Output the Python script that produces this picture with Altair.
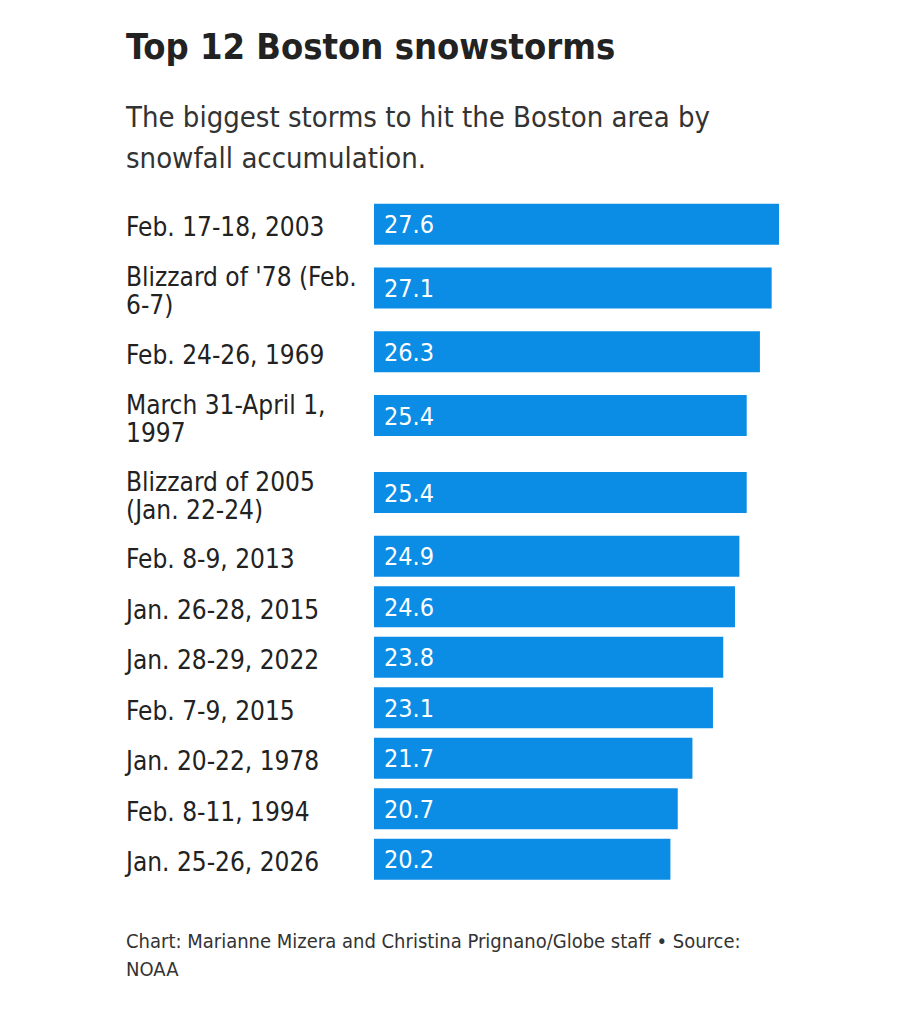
import altair as alt
import pandas as pd

storms = [
    "Feb. 17-18, 2003",
    "Blizzard of '78 (Feb.|6-7)",
    "Feb. 24-26, 1969",
    "March 31-April 1,|1997",
    "Blizzard of 2005|(Jan. 22-24)",
    "Feb. 8-9, 2013",
    "Jan. 26-28, 2015",
    "Jan. 28-29, 2022",
    "Feb. 7-9, 2015",
    "Jan. 20-22, 1978",
    "Feb. 8-11, 1994",
    "Jan. 25-26, 2026",
]
snowfall = [27.6, 27.1, 26.3, 25.4, 25.4, 24.9, 24.6, 23.8, 23.1, 21.7, 20.7, 20.2]

title_text = "Top 12 Boston snowstorms"
subtitle_lines = ["The biggest storms to hit the Boston area by", "snowfall accumulation."]
footer_lines = ["Chart: Marianne Mizera and Christina Prignano/Globe staff \u2022 Source:", "NOAA"]

FONT = "Liberation Sans Narrow, DejaVu Sans Condensed, Roboto, sans-serif"
BLUE = "#0b8de6"

# layout: rows grow with the number of label lines
ROW1 = 50.5
EXTRA = 26.5
BAR_HALF = 20.5
LABEL_LH = 28

rows = []
top = 0.0
for lab, val in zip(storms, snowfall):
    lines = lab.split("|")
    n = len(lines)
    h = ROW1 + EXTRA * (n - 1)
    c = top + h / 2
    rows.append({"lines": lines, "value": val, "yc": c,
                 "ylab": c - (n - 1) * LABEL_LH / 2,
                 "y0": c - BAR_HALF, "y1": c + BAR_HALF})
    top += h
TOTAL = top
df = pd.DataFrame(rows)

W = 405
H = TOTAL

xs = alt.Scale(domain=[0, max(snowfall)], nice=False, zero=True)
ys = alt.Scale(domain=[0, TOTAL], reverse=True, nice=False, zero=False)

base = alt.Chart(df)

bars = base.mark_rect(color=BLUE).encode(
    x=alt.X("value:Q", scale=xs, axis=None),
    x2=alt.value(0),
    y=alt.Y("y0:Q", scale=ys, axis=None),
    y2="y1:Q",
)

vals = base.mark_text(align="left", baseline="middle", dx=10, dy=1, color="white",
                      font=FONT, fontSize=25).encode(
    x=alt.value(0),
    y=alt.Y("yc:Q", scale=ys, axis=None),
    text=alt.Text("value:Q", format=".1f"),
)

labels = base.mark_text(align="left", baseline="middle", dy=4, color="#222222",
                        font=FONT, fontSize=26, lineHeight=LABEL_LH).encode(
    x=alt.value(-248),
    y=alt.Y("ylab:Q", scale=ys, axis=None),
    text="lines",
)

footer = alt.Chart(pd.DataFrame([{"t": footer_lines}])).mark_text(
    align="left", baseline="top", color="#333333", font=FONT, fontSize=20, lineHeight=28
).encode(
    x=alt.value(-248),
    y=alt.value(H + 47),
    text="t",
)

chart = alt.layer(bars, vals, labels, footer).properties(
    width=W,
    height=H,
    padding={"left": 118, "top": 22, "right": 10, "bottom": 10},
    title=alt.Title(
        text=title_text,
        subtitle=subtitle_lines,
        anchor="start",
        frame="bounds",
        font=FONT,
        fontSize=36,
        fontWeight="bold",
        color="#222222",
        subtitleFont=FONT,
        subtitleFontSize=29,
        subtitleColor="#333333",
        subtitleLineHeight=41,
        subtitlePadding=37,
        offset=24,
    ),
).configure(background="white").configure_view(strokeWidth=0, stroke="transparent")

chart.save("out.html", embed_options={"renderer": "svg", "actions": False})
